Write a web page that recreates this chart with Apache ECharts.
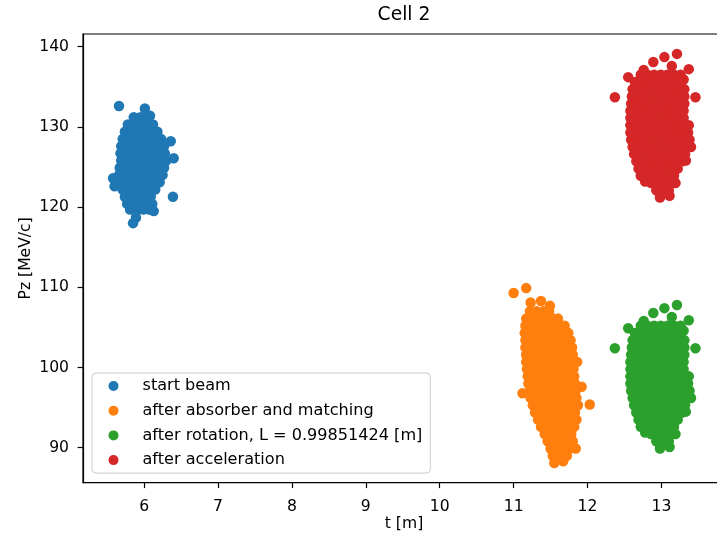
<!DOCTYPE html>
<html><head><meta charset="utf-8">
<script src="https://cdn.jsdelivr.net/npm/echarts@6/dist/echarts.min.js"></script>
<style>html,body{margin:0;padding:0;background:#fff}#c{width:717px;height:536px}</style>
</head><body><div id="c"></div>
<script>
const titleText = 'Cell 2';
const xName = 't [m]';
const yName = 'Pz [MeV/c]';
const seriesNames = ['start beam', 'after absorber and matching', 'after rotation, L = 0.99851424 [m]', 'after acceleration'];
const seriesColors = ['#1f77b4', '#ff7f0e', '#2ca02c', '#d62728'];
const xTicks = [6, 7, 8, 9, 10, 11, 12, 13];
const yTicks = [90, 100, 110, 120, 130, 140];
const xRange = [5.173, 13.86];
const yRange = [85.64, 141.58];

// rows: [Pz, [t values]]
const startBeamRows = [
  [131.2, [5.86, 5.95, 6.04]],
  [130.3, [5.78, 5.87, 5.96, 6.05, 6.12]],
  [129.4, [5.74, 5.83, 5.92, 6.01, 6.10, 6.18]],
  [128.5, [5.71, 5.80, 5.89, 5.98, 6.07, 6.16, 6.23]],
  [127.6, [5.69, 5.78, 5.87, 5.96, 6.05, 6.14, 6.22, 6.27]],
  [126.7, [5.68, 5.77, 5.86, 5.95, 6.04, 6.13, 6.22, 6.28]],
  [125.8, [5.69, 5.78, 5.87, 5.96, 6.05, 6.14, 6.23, 6.30]],
  [124.9, [5.67, 5.76, 5.85, 5.94, 6.03, 6.12, 6.21, 6.27]],
  [124.0, [5.66, 5.75, 5.84, 5.93, 6.02, 6.11, 6.19, 6.25]],
  [123.1, [5.69, 5.78, 5.87, 5.96, 6.05, 6.14, 6.21]],
  [122.2, [5.71, 5.80, 5.89, 5.98, 6.07, 6.15]],
  [121.3, [5.74, 5.83, 5.92, 6.01, 6.09]],
  [120.4, [5.77, 5.86, 5.95, 6.04, 6.11]],
  [119.7, [5.81, 5.90, 5.99, 6.07]]
];
const startBeamExtra = [[5.66, 132.6], [6.01, 132.3], [6.08, 131.4], [5.58, 123.6], [5.60, 122.6], [6.40, 126.1], [6.36, 128.2], [6.39, 121.3], [5.85, 118.0], [5.89, 118.7], [6.13, 119.5]];

const absorberRows = [
  [107.0, [11.22, 11.31, 11.40, 11.48]],
  [106.1, [11.17, 11.26, 11.35, 11.44, 11.53, 11.60]],
  [105.2, [11.16, 11.25, 11.34, 11.43, 11.52, 11.61, 11.69]],
  [104.3, [11.15, 11.24, 11.33, 11.42, 11.51, 11.60, 11.69, 11.74]],
  [103.4, [11.16, 11.25, 11.34, 11.43, 11.52, 11.61, 11.70, 11.77]],
  [102.5, [11.16, 11.25, 11.34, 11.43, 11.52, 11.61, 11.70, 11.79]],
  [101.6, [11.17, 11.26, 11.35, 11.44, 11.53, 11.62, 11.71, 11.80]],
  [100.7, [11.17, 11.26, 11.35, 11.44, 11.53, 11.62, 11.71, 11.80, 11.86]],
  [99.8, [11.18, 11.27, 11.36, 11.45, 11.54, 11.63, 11.72, 11.81]],
  [98.9, [11.19, 11.28, 11.37, 11.46, 11.55, 11.64, 11.73, 11.82]],
  [98.0, [11.20, 11.29, 11.38, 11.47, 11.56, 11.65, 11.74, 11.83]],
  [97.1, [11.22, 11.31, 11.40, 11.49, 11.58, 11.67, 11.76, 11.84]],
  [96.2, [11.23, 11.32, 11.41, 11.50, 11.59, 11.68, 11.77, 11.85]],
  [95.3, [11.26, 11.35, 11.44, 11.53, 11.62, 11.71, 11.80, 11.87]],
  [94.4, [11.29, 11.38, 11.47, 11.56, 11.65, 11.74, 11.83]],
  [93.5, [11.33, 11.42, 11.51, 11.60, 11.69, 11.78, 11.85]],
  [92.6, [11.37, 11.46, 11.55, 11.64, 11.73, 11.82]],
  [91.7, [11.42, 11.51, 11.60, 11.69, 11.78]],
  [90.8, [11.46, 11.55, 11.64, 11.73, 11.80]],
  [89.9, [11.50, 11.59, 11.68, 11.76, 11.84]],
  [89.0, [11.53, 11.62, 11.72]]
];
const absorberExtra = [[11.00, 109.3], [11.17, 109.9], [11.23, 108.1], [11.37, 108.3], [11.49, 107.7], [12.03, 95.4], [11.55, 88.1], [11.67, 88.3], [11.92, 97.6], [11.12, 96.8]];

const rotationRows = [
  [105.2, [12.72, 12.81, 12.90, 12.99, 13.08, 13.17, 13.26]],
  [104.3, [12.64, 12.73, 12.82, 12.91, 13.00, 13.09, 13.18, 13.27]],
  [103.4, [12.61, 12.70, 12.79, 12.88, 12.97, 13.06, 13.15, 13.24, 13.31]],
  [102.5, [12.60, 12.69, 12.78, 12.87, 12.96, 13.05, 13.14, 13.23, 13.31]],
  [101.6, [12.59, 12.68, 12.77, 12.86, 12.95, 13.04, 13.13, 13.22, 13.31]],
  [100.7, [12.58, 12.67, 12.76, 12.85, 12.94, 13.03, 13.12, 13.21, 13.30]],
  [99.8, [12.58, 12.67, 12.76, 12.85, 12.94, 13.03, 13.12, 13.21, 13.30]],
  [98.9, [12.58, 12.67, 12.76, 12.85, 12.94, 13.03, 13.12, 13.21, 13.30, 13.37]],
  [98.0, [12.58, 12.67, 12.76, 12.85, 12.94, 13.03, 13.12, 13.21, 13.30, 13.36]],
  [97.1, [12.59, 12.68, 12.77, 12.86, 12.95, 13.04, 13.13, 13.22, 13.31, 13.38]],
  [96.2, [12.61, 12.70, 12.79, 12.88, 12.97, 13.06, 13.15, 13.24, 13.32, 13.40]],
  [95.3, [12.63, 12.72, 12.81, 12.90, 12.99, 13.08, 13.17, 13.26, 13.32]],
  [94.4, [12.66, 12.75, 12.84, 12.93, 13.02, 13.11, 13.20, 13.28]],
  [93.5, [12.69, 12.78, 12.87, 12.96, 13.05, 13.14, 13.22]],
  [92.6, [12.72, 12.81, 12.90, 12.99, 13.08, 13.17]],
  [91.7, [12.86, 12.95, 13.04, 13.13, 13.19]],
  [90.8, [12.93, 13.02, 13.10]]
];
const rotationExtra = [[13.04, 107.4], [13.21, 107.8], [12.89, 106.8], [12.76, 105.8], [13.37, 105.9], [13.14, 106.3], [12.37, 102.4], [12.55, 104.9], [13.46, 102.4], [12.98, 89.9], [13.11, 90.1], [13.30, 104.6], [12.78, 91.9], [13.33, 94.5]];

const accelerationRows = [
  [136.5, [12.72, 12.81, 12.90, 12.99, 13.08, 13.17, 13.26]],
  [135.6, [12.64, 12.73, 12.82, 12.91, 13.00, 13.09, 13.18, 13.27]],
  [134.7, [12.61, 12.70, 12.79, 12.88, 12.97, 13.06, 13.15, 13.24, 13.31]],
  [133.8, [12.60, 12.69, 12.78, 12.87, 12.96, 13.05, 13.14, 13.23, 13.31]],
  [132.9, [12.59, 12.68, 12.77, 12.86, 12.95, 13.04, 13.13, 13.22, 13.31]],
  [132.0, [12.58, 12.67, 12.76, 12.85, 12.94, 13.03, 13.12, 13.21, 13.30]],
  [131.1, [12.58, 12.67, 12.76, 12.85, 12.94, 13.03, 13.12, 13.21, 13.30]],
  [130.2, [12.58, 12.67, 12.76, 12.85, 12.94, 13.03, 13.12, 13.21, 13.30, 13.37]],
  [129.3, [12.58, 12.67, 12.76, 12.85, 12.94, 13.03, 13.12, 13.21, 13.30, 13.36]],
  [128.4, [12.59, 12.68, 12.77, 12.86, 12.95, 13.04, 13.13, 13.22, 13.31, 13.38]],
  [127.5, [12.61, 12.70, 12.79, 12.88, 12.97, 13.06, 13.15, 13.24, 13.32, 13.40]],
  [126.6, [12.63, 12.72, 12.81, 12.90, 12.99, 13.08, 13.17, 13.26, 13.32]],
  [125.7, [12.66, 12.75, 12.84, 12.93, 13.02, 13.11, 13.20, 13.28]],
  [124.8, [12.69, 12.78, 12.87, 12.96, 13.05, 13.14, 13.22]],
  [123.9, [12.72, 12.81, 12.90, 12.99, 13.08, 13.17]],
  [123.0, [12.86, 12.95, 13.04, 13.13, 13.19]],
  [122.1, [12.93, 13.02, 13.10]]
];
const accelerationExtra = [[13.04, 138.7], [13.21, 139.1], [12.89, 138.1], [12.76, 137.1], [13.37, 137.2], [13.14, 137.6], [12.37, 133.7], [12.55, 136.2], [13.46, 133.7], [12.98, 121.2], [13.11, 121.4], [13.30, 135.9], [12.78, 123.2], [13.33, 125.8]];

function toPoints(rows, extra) {
  const pts = [];
  rows.forEach(([y, xs]) => xs.forEach(x => pts.push([x, y])));
  extra.forEach(p => pts.push(p));
  return pts;
}
const seriesData = [
  toPoints(startBeamRows, startBeamExtra),
  toPoints(absorberRows, absorberExtra),
  toPoints(rotationRows, rotationExtra),
  toPoints(accelerationRows, accelerationExtra)
];

const FONT = 'DejaVu Sans';
const chart = echarts.init(document.getElementById('c'), null, {renderer: 'canvas'});
chart.setOption({
  animation: false,
  backgroundColor: '#fff',
  title: {
    text: titleText, left: 404, top: 6, padding: 0, textAlign: 'center',
    textStyle: {fontFamily: FONT, fontSize: 18.7, fontWeight: 'normal', color: '#000'}
  },
  legend: {
    data: seriesNames, orient: 'vertical', left: 92, top: 373,
    padding: [4.5, 8, 4.5, 16.5], itemGap: 7.7, itemWidth: 10, itemHeight: 10, icon: 'circle',
    backgroundColor: 'rgba(255,255,255,0.8)', borderColor: '#ccc', borderWidth: 1, borderRadius: 4,
    textStyle: {fontFamily: FONT, fontSize: 16.1, color: '#000', lineHeight: 17, padding: [0, 0, 0, 19]}
  },
  grid: {left: 83, right: -8, top: 34, bottom: 53.3, containLabel: false, outerBoundsMode: 'none',
    show: true, borderColor: '#000', borderWidth: 1.2, backgroundColor: 'transparent'},
  xAxis: {
    type: 'value', min: xRange[0], max: xRange[1], minInterval: 1, maxInterval: 1,
    name: xName, nameLocation: 'middle', nameGap: 33, nameMoveOverlap: false,
    nameTextStyle: {fontFamily: FONT, fontSize: 15.6, color: '#000'},
    axisLine: {show: true, onZero: false, lineStyle: {color: '#000', width: 1.2}},
    axisTick: {show: true, length: 5.4, lineStyle: {color: '#000', width: 1.2}, customValues: xTicks},
    axisLabel: {customValues: xTicks, fontFamily: FONT, fontSize: 15.6, color: '#000', margin: 16},
    splitLine: {show: false}
  },
  yAxis: {
    type: 'value', min: yRange[0], max: yRange[1], minInterval: 10, maxInterval: 10,
    name: yName, nameLocation: 'middle', nameGap: 49, nameRotate: 90, nameMoveOverlap: false,
    nameTextStyle: {fontFamily: FONT, fontSize: 15.6, color: '#000'},
    axisLine: {show: true, onZero: false, lineStyle: {color: '#000', width: 1.2}},
    axisTick: {show: true, length: 5.4, lineStyle: {color: '#000', width: 1.2}, customValues: yTicks},
    axisLabel: {customValues: yTicks, fontFamily: FONT, fontSize: 15.6, color: '#000', margin: 14},
    splitLine: {show: false}
  },
  series: seriesNames.map((name, i) => ({
    name: name, type: 'scatter', data: seriesData[i], symbol: 'circle', symbolSize: 10.5,
    itemStyle: {color: seriesColors[i], opacity: 1}, emphasis: {disabled: true}
  }))
});
</script>
</body></html>
